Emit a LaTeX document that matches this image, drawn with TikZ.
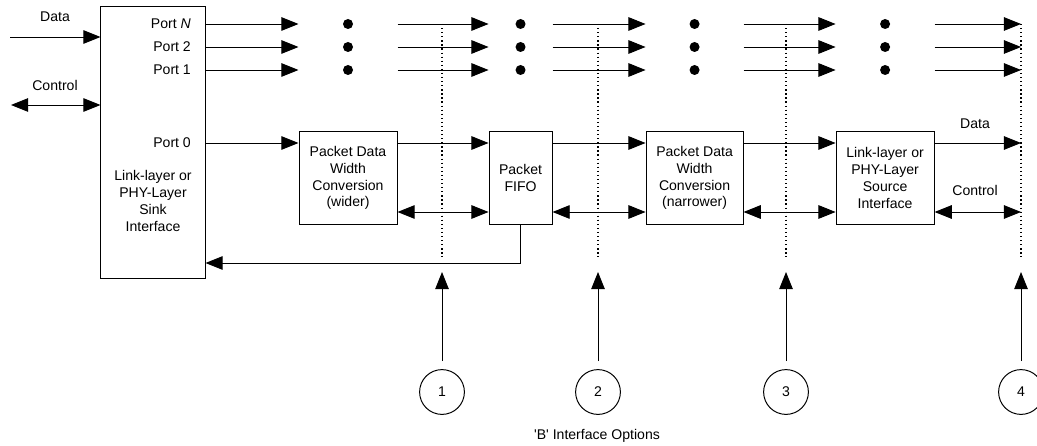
\documentclass[tikz,border=0pt]{standalone}
\usepackage{fontspec}
\setmainfont{Liberation Sans}
\usetikzlibrary{positioning, arrows.meta}

\begin{document}
\begin{tikzpicture}[
		x=0.025cm, y=-0.025cm,
		>={Triangle[length=4.3mm, width=3.4mm]}, line width=0.7pt,
		block/.style={draw, align=center, minimum height=2.3cm, inner sep=2pt},
		sig/.style={->},
		bus/.style={<->},
		cut/.style={dotted, line width=0.9pt},
		option/.style={draw, circle, minimum size=1.12cm, inner sep=0pt},
		more/.style={circle, fill, inner sep=0pt, minimum size=2.5mm},
		port/.style={anchor=east},
		note/.style={align=center}
		]
		\useasboundingbox (0,0) rectangle (1037,446);
		
		% --- 1. Rows, cuts and tips ---
		\coordinate (rowN) at (0,24);
		\coordinate (row2) at (0,47);
		\coordinate (row1) at (0,70);
		\coordinate (rowD) at (0,143);
		\coordinate (rowC) at (0,212);
		\coordinate (rowF) at (0,263);
		\coordinate (cutend) at (0,257);
		\coordinate (tip) at (0,272);
		\coordinate (cut4) at (1021,0);
		
		% --- 2. The sink interface ---
		\node[draw, minimum width=2.6cm, minimum height=6.775cm] (sink) at (153,142.5) {};
		\node[note] (sinktxt) at (153,201) {Link-layer or\\PHY-Layer\\Sink\\Interface};
		\node[port] (lpN) at (196,24) {Port \textit{N}};
		\node[port] (lp2) at (196,47) {Port 2};
		\node[port] (lp1) at (196,70) {Port 1};
		\node[port] (lp0) at (196,143) {Port 0};
		
		\coordinate (datain) at (10,37);
		\coordinate (ctlin) at (11,105);
		\node (datalbl) at (55,17) {Data};
		\node (ctllbl) at (55,85) {Control};
		\draw[sig] (datain) -- (datain -| sink.west);
		\draw[bus] (ctlin) -- (ctlin -| sink.west);
		
		% --- 3. The processing chain ---
		\node[block, minimum width=2.45cm] (wide) at (348,178) {Packet Data\\Width\\Conversion\\(wider)};
		\node[block, minimum width=1.575cm, right=2.275cm of wide] (fifo) {Packet\\FIFO};
		\node[block, minimum width=2.425cm, right=2.325cm of fifo] (narrow) {Packet Data\\Width\\Conversion\\(narrower)};
		\node[block, minimum width=2.45cm, right=2.3cm of narrow] (src) {Link-layer or\\PHY-Layer\\Source\\Interface};
		
		\draw[sig] (sink.east |- rowD) -- (wide.west |- rowD);
		\draw[sig] (wide.east |- rowD) -- (fifo.west |- rowD);
		\draw[sig] (fifo.east |- rowD) -- (narrow.west |- rowD);
		\draw[sig] (narrow.east |- rowD) -- (src.west |- rowD);
		\draw[sig] (src.east |- rowD) -- (cut4 |- rowD);
		
		\draw[bus] (wide.east |- rowC) -- (fifo.west |- rowC);
		\draw[bus] (fifo.east |- rowC) -- (narrow.west |- rowC);
		\draw[bus] (narrow.east |- rowC) -- (src.west |- rowC);
		\draw[bus] (src.east |- rowC) -- (cut4 |- rowC);
		
		\node (dataout) at (975,124) {Data};
		\node (ctlout) at (975,190) {Control};
		
		% FIFO feedback to the sink
		\draw[sig] (fifo.south) |- (sink.east |- rowF);
		
		% --- 4. The other ports ---
		\foreach \r in {rowN,row2,row1} {
			\draw[sig] (sink.east |- \r) -- (wide.west |- \r);
			\draw[sig] (wide.east |- \r) -- (fifo.west |- \r);
			\draw[sig] (fifo.east |- \r) -- (narrow.west |- \r);
			\draw[sig] (narrow.east |- \r) -- (src.west |- \r);
			\draw[sig] (src.east |- \r) -- (cut4 |- \r);
			\foreach \b in {wide,fifo,narrow,src}
				\node[more] (dot-\b-\r) at (\b |- \r) {};
		}
		
		% --- 5. The 'B' interface options ---
		\foreach \i/\x in {1/442, 2/598, 3/786, 4/1021} {
			\coordinate (cut\i) at (\x,0);
			\draw[cut] (cut\i |- rowN) -- (cut\i |- cutend);
			\node[option] (opt\i) at (\x,392) {\i};
			\draw[sig, shorten <=0.2cm] (opt\i) -- (opt\i |- tip);
		}
		\node (caption) at (597,436) {\textquotesingle B\textquotesingle\ Interface Options};
		
	\end{tikzpicture}
\end{document}
